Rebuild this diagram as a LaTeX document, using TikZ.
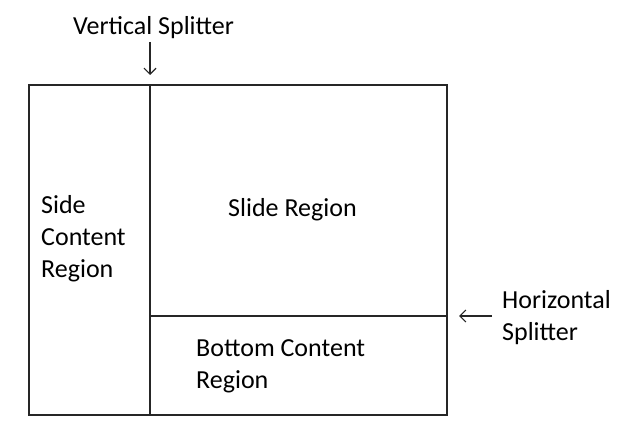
\documentclass[tikz,border=0pt]{standalone}
\usepackage{fontspec}
\setmainfont{Carlito}
\usetikzlibrary{arrows.meta}
\begin{document}
\begin{tikzpicture}[x=1pt,y=-1pt,
  lbl/.style={font=\fontsize{26}{32}\selectfont, inner sep=0pt, anchor=base west, align=left},
  ln/.style={line width=1.5pt, black!85},
  arr/.style={line width=1.2pt, black!85, -{Straight Barb[length=6pt,width=12pt]}}]
\useasboundingbox (0,0) rectangle (631,433);
\draw[ln] (29,85) rectangle (447,415);
\coordinate (vt) at (150,85);
\coordinate (vb) at (150,415);
\coordinate (hl) at (150,316);
\coordinate (hr) at (447,316);
\draw[ln] (vt) -- (vb);
\draw[ln] (hl) -- (hr);
\node[lbl] (vs) at (73,35) {Vertical Splitter};
\coordinate (va) at (150,42);
\coordinate (vtip) at (150,75);
\draw[arr] (va) -- (vtip);
\coordinate (ha) at (492,316);
\coordinate (htip) at (459,316);
\draw[arr] (ha) -- (htip);
\node[lbl] (hs) at (502,340) {Horizontal\\Splitter};
\node[lbl] (side) at (41,277) {Side\\Content\\Region};
\node[lbl] (slide) at (228,216) {Slide Region};
\node[lbl] (bottom) at (196,388) {Bottom Content\\Region};
\end{tikzpicture}
\end{document}
